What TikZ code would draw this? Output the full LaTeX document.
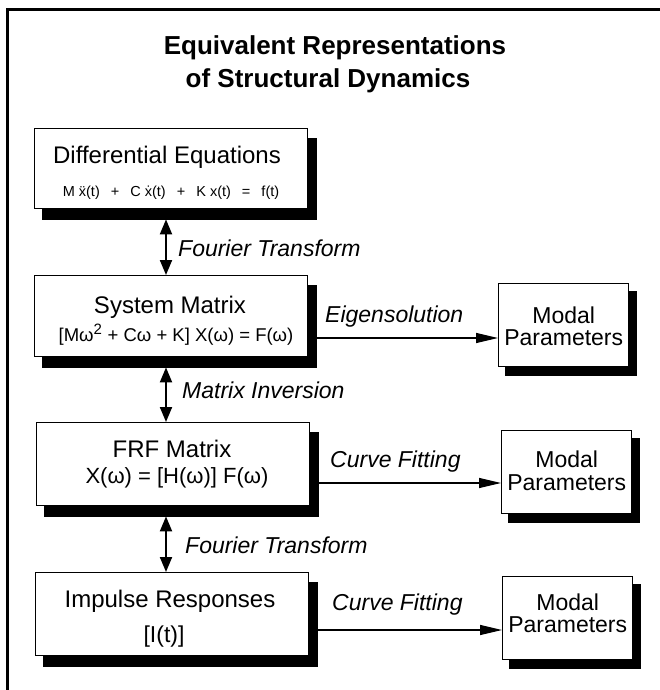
\documentclass[tikz,border=0pt]{standalone}
\usepackage{fontspec}
\setmainfont{Liberation Sans}
\usetikzlibrary{arrows.meta,calc}
\newcommand\TitleFnt{\fontsize{26}{30}\selectfont\bfseries}
\newcommand\HeadFnt{\fontsize{24}{28}\selectfont}
\newcommand\LblFnt{\fontsize{23}{27}\selectfont\itshape}
\begin{document}
\begin{tikzpicture}[x=1pt,y=-1pt,
  mainbox/.style={draw=black, line width=1.4pt, fill=white, rectangle, inner sep=0pt,
    anchor=north west, minimum width=273pt, minimum height=#1},
  modalbox/.style={draw=black, line width=1.4pt, fill=white, rectangle, inner sep=0pt,
    anchor=north west, minimum width=130pt, minimum height=83pt},
  shad/.style={fill=black, draw=black, line width=1pt},
  txt/.style={anchor=base, inner sep=0pt},
  lbl/.style={anchor=base west, inner sep=0pt, font=\LblFnt},
  dbl/.style={line width=2pt, {Triangle[length=15pt,width=12pt]}-{Triangle[length=15pt,width=12pt]}},
  harr/.style={line width=1.3pt, -{Triangle[length=22pt,width=10pt]}}
]
\useasboundingbox (0,0) rectangle (660,690);
% frame
\draw[line width=3pt] (7,690) -- (7,10) -- (660,10);

% title
\node[txt, font=\TitleFnt] (t1) at (335,55) {Equivalent Representations};
\node[txt, font=\TitleFnt] (t2) at (328,88) {of Structural Dynamics};

% main boxes
\node[mainbox=80pt] (b1) at (34,128) {};
\node[mainbox=81pt] (b2) at (34,275) {};
\node[mainbox=83pt] (b3) at (36,422) {};
\node[mainbox=83pt] (b4) at (35,572) {};

% modal boxes
\node[modalbox] (m1) at (498,283) {};
\node[modalbox] (m2) at (501,430) {};
\node[modalbox] (m3) at (502,576) {};

% shadows: L-shaped bands along the right and bottom sides of each box
\foreach \bx/\dx/\dy in {b1/8/10, b2/8/10, b3/8/10, b4/8/10, m1/7/8, m2/7/8, m3/7/8}{
  \fill[shad] ($(\bx.north east)+(0,\dy)$) -- ($(\bx.north east)+(\dx,\dy)$)
    -- ($(\bx.south east)+(\dx,\dy)$) -- ($(\bx.south west)+(\dx,\dy)$)
    -- ($(\bx.south west)+(\dx,0)$) -- (\bx.south east) -- cycle;
}

% box texts
\node[txt, font=\HeadFnt] (b1h) at (167,163) {Differential Equations};
\node[txt, font=\fontsize{14.5}{18}\selectfont] (b1e) at (171,196)
  {M \"x(t)\hspace{7pt} + \hspace{7pt}C \.x(t)\hspace{7pt} + \hspace{7pt}K x(t)\hspace{7pt} = \hspace{7pt}f(t)};
\node[txt, font=\HeadFnt] (b2h) at (170,313) {System Matrix};
\node[txt, font=\fontsize{18.5}{22}\selectfont] (b2e) at (176,341)
  {[Mω\textsuperscript{\fontsize{15}{15}\selectfont 2} + Cω + K] X(ω) = F(ω)};
\node[txt, font=\HeadFnt] (b3h) at (172,457) {FRF Matrix};
\node[txt, font=\fontsize{22}{26}\selectfont] (b3e) at (177,483) {X(ω) = [H(ω)] F(ω)};
\node[txt, font=\HeadFnt] (b4h) at (170,607) {Impulse Responses};
\node[txt, font=\fontsize{23}{27}\selectfont] (b4e) at (164,642) {[I(t)]};

\foreach \mm/\ya/\yb in {m1/323/345, m2/467/490, m3/610/632}{
  \node[txt, font=\fontsize{23}{27}\selectfont] (\mm a) at (\mm.center |- 0,\ya) {Modal};
  \node[txt, font=\fontsize{23}{27}\selectfont] (\mm b) at (\mm.center |- 0,\yb) {Parameters};
}

% vertical arrows
\coordinate (ax) at (166,0);
\draw[dbl] ($(b1.south -| ax)+(0,10)$) -- (b2.north -| ax);
\draw[dbl] ($(b2.south -| ax)+(0,10)$) -- (b3.north -| ax);
\draw[dbl] ($(b3.south -| ax)+(0,10)$) -- (b4.north -| ax);

\node[lbl] (l1) at (178,256) {Fourier Transform};
\node[lbl] (l2) at (182,398) {Matrix Inversion};
\node[lbl] (l3) at (185,553) {Fourier Transform};

% horizontal arrows
\coordinate (h1) at (0,338);
\coordinate (h2) at (0,483);
\coordinate (h3) at (0,630);
\draw[harr] ($(b2.east |- h1)+(8,0)$) -- (m1.west |- h1);
\draw[harr] ($(b3.east |- h2)+(8,0)$) -- (m2.west |- h2);
\draw[harr] ($(b4.east |- h3)+(8,0)$) -- (m3.west |- h3);

\node[lbl] (e1) at (325,322) {Eigensolution};
\node[lbl] (c1) at (330,467) {Curve Fitting};
\node[lbl] (c2) at (332,610) {Curve Fitting};
\end{tikzpicture}
\end{document}
